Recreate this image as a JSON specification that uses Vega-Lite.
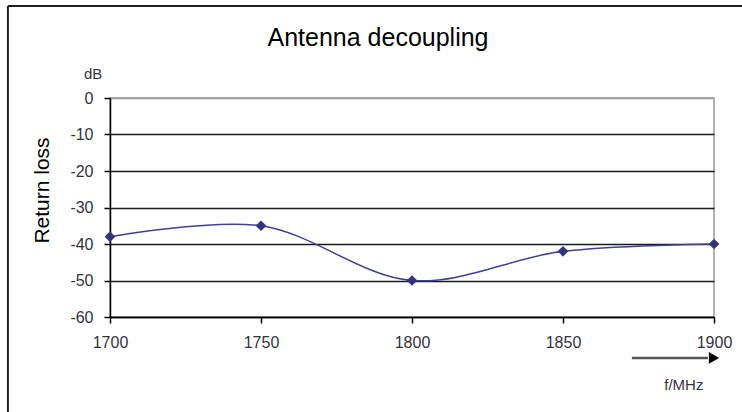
{
  "$schema": "https://vega.github.io/schema/vega-lite/v6.json",
  "autosize": {"type": "none"},
  "width": 604,
  "height": 219,
  "padding": {"left": 110, "top": 98, "right": 28, "bottom": 95},
  "background": "white",
  "config": {
    "font": "Liberation Sans",
    "view": {"stroke": "#9a9a9a", "strokeWidth": 1.5}
  },
  "title": {
    "text": "Antenna decoupling",
    "fontSize": 25,
    "fontWeight": "normal",
    "font": "Liberation Sans",
    "color": "#000000",
    "anchor": "middle",
    "dx": -34,
    "offset": -46
  },
  "encoding": {
    "x": {"field": "f", "type": "quantitative",
      "scale": {"domain": [1700, 1900], "nice": false, "zero": false},
      "axis": {"values": [1700, 1750, 1800, 1850, 1900], "grid": false, "title": null,
        "labelExpr": "'' + datum.value", "labelFlush": false, "labelOverlap": false, "labelBound": false,
        "domainColor": "#000000", "domainWidth": 1.5, "tickColor": "#000000", "tickWidth": 1.5, "tickSize": 6,
        "labelFontSize": 16, "labelColor": "#333340", "labelPadding": 11, "labelFont": "Liberation Sans"}},
    "y": {"field": "dB", "type": "quantitative",
      "scale": {"domain": [-60, 0], "nice": false, "zero": false},
      "axis": {"values": [-60, -50, -40, -30, -20, -10, 0], "title": "Return loss",
        "labelExpr": "'' + datum.value", "labelFlush": false, "labelOverlap": false, "labelBound": false,
        "titleFontSize": 21, "titleFontWeight": "normal", "titleColor": "#000000", "titleFont": "Liberation Sans",
        "titleAngle": 270, "titleX": -68, "titleY": 92, "titleAlign": "center", "titleBaseline": "middle",
        "grid": true,
        "gridColor": {"condition": {"test": "datum.value === 0", "value": "#9a9a9a"}, "value": "#1a1a1a"},
        "gridWidth": 1.7,
        "domainColor": "#000000", "domainWidth": 1.5, "tickColor": "#000000", "tickWidth": 1.5, "tickSize": 6,
        "labelFontSize": 16, "labelColor": "#333340", "labelPadding": 11, "labelFont": "Liberation Sans"}}
  },
  "layer": [
    {
      "data": {"values": [
        {"f": 1700, "dB": -38},
        {"f": 1750, "dB": -35},
        {"f": 1800, "dB": -50},
        {"f": 1850, "dB": -42},
        {"f": 1900, "dB": -40}
      ]},
      "mark": {"type": "line", "interpolate": "catmull-rom", "color": "#40409c", "strokeWidth": 1.5}
    },
    {
      "data": {"values": [
        {"f": 1700, "dB": -38},
        {"f": 1750, "dB": -35},
        {"f": 1800, "dB": -50},
        {"f": 1850, "dB": -42},
        {"f": 1900, "dB": -40}
      ]},
      "mark": {"type": "point", "shape": "diamond", "filled": true, "color": "#333380", "size": 115, "opacity": 1, "clip": false}
    },
    {
      "data": {"values": [{"f": 1666.2, "dB": 25.2, "dB2": -90}]},
      "mark": {"type": "rule", "color": "#222222", "strokeWidth": 2, "clip": false},
      "encoding": {
        "y2": {"field": "dB2"}
      }
    },
    {
      "data": {"values": [{"f": 1666.2, "f2": 1915, "dB": 25.2}]},
      "mark": {"type": "rule", "color": "#222222", "strokeWidth": 2, "clip": false},
      "encoding": {
        "x2": {"field": "f2"}
      }
    },
    {
      "data": {"values": [{"f": 1872.8, "f2": 1898, "dB": -71.2}]},
      "mark": {"type": "rule", "color": "#555555", "strokeWidth": 2.5, "clip": false},
      "encoding": {
        "x2": {"field": "f2"}
      }
    },
    {
      "data": {"values": [{"f": 1900, "dB": -71.2}]},
      "mark": {"type": "point", "shape": "triangle-right", "filled": true, "color": "#000000", "size": 140, "opacity": 1, "clip": false}
    },
    {
      "data": {"values": [
        {"f": 1890, "dB": -78.6, "label": "f/MHz"},
        {"f": 1694.4, "dB": 6.6, "label": "dB"}
      ]},
      "mark": {"type": "text", "font": "Liberation Sans", "fontSize": 15, "color": "#333340", "baseline": "middle", "align": "center", "clip": false},
      "encoding": {
        "text": {"field": "label"}
      }
    }
  ]
}
